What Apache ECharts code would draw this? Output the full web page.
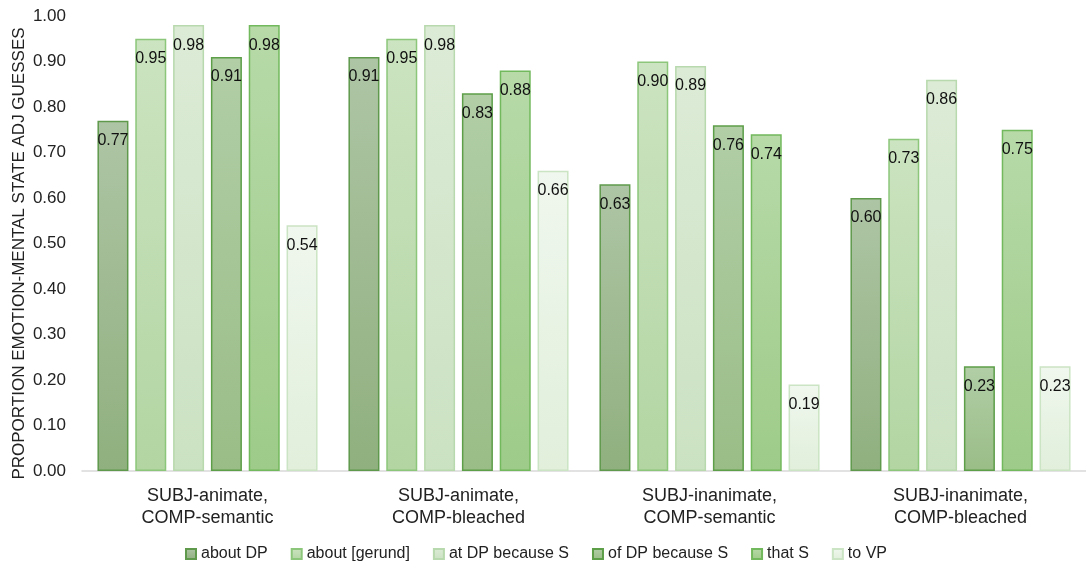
<!DOCTYPE html>
<html>
<head>
<meta charset="utf-8">
<script src="https://cdn.jsdelivr.net/npm/echarts@6/dist/echarts.min.js"></script>
<style>
  html, body { margin: 0; padding: 0; background: #ffffff; }
  #chart { width: 1086px; height: 563px; }
</style>
</head>
<body>
<div id="chart"></div>
<script>
// Condition groups along the category axis
const categories = [
  'SUBJ-animate,\nCOMP-semantic',
  'SUBJ-animate,\nCOMP-bleached',
  'SUBJ-inanimate,\nCOMP-semantic',
  'SUBJ-inanimate,\nCOMP-bleached'
];

// Proportion of emotion/mental-state adjective guesses per frame
const aboutDP        = [0.77, 0.91, 0.63, 0.60];
const aboutGerund    = [0.95, 0.95, 0.90, 0.73];
const atDPBecauseS   = [0.98, 0.98, 0.89, 0.86];
const ofDPBecauseS   = [0.91, 0.83, 0.76, 0.23];
const thatS          = [0.98, 0.88, 0.74, 0.75];
const toVP           = [0.54, 0.66, 0.19, 0.23];

const seriesNames = ['about DP', 'about [gerund]', 'at DP because S', 'of DP because S', 'that S', 'to VP'];
const seriesData  = [aboutDP, aboutGerund, atDPBecauseS, ofDPBecauseS, thatS, toVP];

// Fill gradient (top, bottom) and outline for each frame
const palette = [
  { top: '#aec5a5', bottom: '#90b07f', border: '#5f9a4c' },
  { top: '#cce4c1', bottom: '#b2d5a2', border: '#8cc67a' },
  { top: '#dcebd6', bottom: '#cbe2c2', border: '#b7d9ad' },
  { top: '#b1cea6', bottom: '#9abd87', border: '#5d9e48' },
  { top: '#b7daa8', bottom: '#9ecb89', border: '#72b85c' },
  { top: '#f0f7ee', bottom: '#e1efdb', border: '#cbe4c3' }
];

const FONT = '"Liberation Sans", Arial, sans-serif';

const chart = echarts.init(document.getElementById('chart'), null, { renderer: 'canvas' });

const series = seriesNames.map((name, i) => ({
  name: name,
  type: 'bar',
  data: seriesData[i],
  barWidth: 31,
  barGap: '22%',
  itemStyle: {
    color: new echarts.graphic.LinearGradient(0, 0, 0, 1, [
      { offset: 0, color: palette[i].top },
      { offset: 1, color: palette[i].bottom }
    ]),
    borderColor: palette[i].border,
    borderWidth: 1.5
  },
  label: {
    show: true,
    position: 'insideTop',
    distance: 12,
    formatter: p => p.value.toFixed(2),
    color: '#111111',
    fontSize: 16,
    fontFamily: FONT
  },
  emphasis: { disabled: true }
}));

chart.setOption({
  animation: false,
  backgroundColor: '#ffffff',
  textStyle: { fontFamily: FONT },
  grid: {
    left: 82, right: 0, top: 16, bottom: 92,
    containLabel: false,
    outerBoundsMode: 'none'
  },
  legend: {
    top: 541,
    left: 180,
    itemWidth: 10,
    itemHeight: 10,
    itemGap: 23,
    icon: 'rect',
    textStyle: { fontSize: 16, color: '#222222', fontFamily: FONT },
    data: seriesNames
  },
  xAxis: {
    type: 'category',
    data: categories,
    axisLine: { show: true, lineStyle: { color: '#d9d9d9', width: 1.5 } },
    axisTick: { show: false },
    axisLabel: {
      color: '#222222',
      fontSize: 18,
      lineHeight: 22,
      margin: 14,
      fontFamily: FONT
    }
  },
  yAxis: {
    type: 'value',
    min: 0,
    max: 1,
    interval: 0.1,
    name: 'PROPORTION EMOTION-MENTAL STATE ADJ GUESSES',
    nameLocation: 'middle',
    nameGap: 54,
    nameRotate: 90,
    nameMoveOverlap: false,
    nameTextStyle: { fontSize: 17, color: '#222222', fontFamily: FONT, padding: [0, 20, 0, 0] },
    axisLine: { show: false },
    axisTick: { show: false },
    splitLine: { show: false },
    axisLabel: {
      formatter: v => v.toFixed(2),
      color: '#222222',
      fontSize: 17,
      margin: 16,
      fontFamily: FONT
    }
  },
  series: series
});
</script>
</body>
</html>
